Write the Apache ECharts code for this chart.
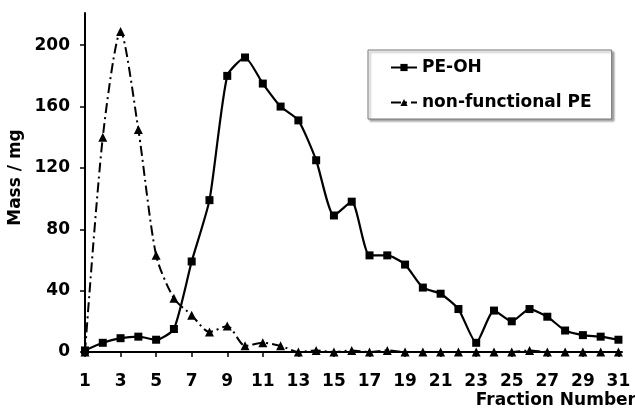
<!DOCTYPE html>
<html lang="en">
<head>
    <meta charset="UTF-8">
    <title>Fractions</title>
    <script src="https://cdn.jsdelivr.net/npm/echarts@6.0.0/dist/echarts.min.js"></script>
    <style>
        body { margin: 0; background: #fff; }
    </style>
</head>
<body>
    <div id="main" style="width: 635px;height:409px;"></div>
    <script type="text/javascript">
        // fraction numbers and the two series
        const fractions = [1, 2, 3, 4, 5, 6, 7, 8, 9, 10, 11, 12, 13, 14, 15, 16,
            17, 18, 19, 20, 21, 22, 23, 24, 25, 26, 27, 28, 29, 30, 31];
        const peOH = [1, 6, 9, 10, 8, 15, 59, 99, 180, 192, 175, 160, 151, 125, 89, 98,
            63, 63, 57, 42, 38, 28, 6, 27, 20, 28, 23, 14, 11, 10, 8];
        const nonFunctional = [0, 140, 209, 145, 63, 35, 24, 13, 17, 4, 6, 4, 0, 1, 0, 1,
            0, 1, 0, 0, 0, 0, 0, 0, 0, 1, 0, 0, 0, 0, 0];
        const xTicks = [1, 3, 5, 7, 9, 11, 13, 15, 17, 19, 21, 23, 25, 27, 29, 31];
        const yTicks = [0, 40, 80, 120, 160, 200];

        const font = 'DejaVu Sans, sans-serif';
        const textStyle = { fontFamily: font, fontWeight: 'bold', fontSize: 17, color: '#000' };
        let myChart = echarts.init(document.getElementById('main'));

        let options = {
            animation: false,
            grid: { left: 85, right: 13, top: 13, bottom: 57, outerBoundsMode: 'none' },
            legend: {
                orient: 'vertical',
                left: 368,
                top: 50,
                padding: [9, 20, 8, 22],
                itemGap: 18,
                itemWidth: 26,
                itemHeight: 9,
                backgroundColor: '#fff',
                borderColor: '#777',
                borderWidth: 1,
                shadowColor: 'rgba(0,0,0,0.35)',
                shadowBlur: 2,
                shadowOffsetX: 2,
                shadowOffsetY: 2,
                textStyle: textStyle,
                data: ['PE-OH', 'non-functional PE']
            },
            xAxis: {
                type: 'value',
                min: 1,
                max: 31.2,
                name: 'Fraction Number',
                nameLocation: 'end',
                nameGap: 14,
                nameTextStyle: Object.assign({}, textStyle, {
                    align: 'right', verticalAlign: 'top', padding: [40, 0, 0, 0]
                }),
                splitLine: { show: false },
                axisLine: { lineStyle: { color: '#000', width: 2 } },
                axisTick: { customValues: xTicks, length: 5, lineStyle: { color: '#000', width: 1.5 } },
                axisLabel: Object.assign({ customValues: xTicks, margin: 21 }, textStyle)
            },
            yAxis: {
                type: 'value',
                min: 0,
                max: 221,
                name: 'Mass / mg',
                nameLocation: 'middle',
                nameGap: 51,
                nameTextStyle: Object.assign({}, textStyle, { padding: [0, 0, 0, 10] }),
                splitLine: { show: false },
                axisLine: { show: true, lineStyle: { color: '#000', width: 2 } },
                axisTick: { show: true, customValues: yTicks, length: 5, lineStyle: { color: '#000', width: 1.5 } },
                axisLabel: Object.assign({ customValues: yTicks, margin: 15 }, textStyle)
            },
            series: [
                {
                    name: 'PE-OH',
                    type: 'line',
                    smooth: 0.2,
                    symbol: 'rect',
                    symbolSize: 8,
                    itemStyle: { color: '#000' },
                    lineStyle: { color: '#000', width: 2.2 },
                    data: fractions.map((f, i) => [f, peOH[i]])
                },
                {
                    name: 'non-functional PE',
                    type: 'line',
                    smooth: 0.25,
                    symbol: 'triangle',
                    symbolSize: 9,
                    itemStyle: { color: '#000' },
                    lineStyle: { color: '#000', width: 2, type: [10, 4, 2, 4] },
                    data: fractions.map((f, i) => [f, nonFunctional[i]])
                }
            ]
        };
        myChart.setOption(options);
    </script>
</body>
</html>
